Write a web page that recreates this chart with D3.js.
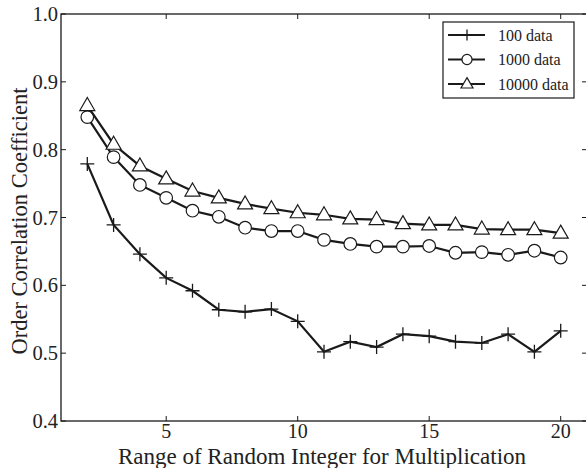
<!DOCTYPE html>
<html>
<head>
<meta charset="utf-8">
<script src="https://cdn.jsdelivr.net/npm/d3@7"></script>
<style>
  body { margin: 0; background: #fff; }
  svg text { font-family: "Liberation Serif", "Times New Roman", Times, serif; fill: #222; }
</style>
</head>
<body>
<svg id="chart"></svg>
<script>
// data
const xs = [2, 3, 4, 5, 6, 7, 8, 9, 10, 11, 12, 13, 14, 15, 16, 17, 18, 19, 20];
const data100 = [0.779, 0.689, 0.646, 0.611, 0.592, 0.564, 0.561, 0.565, 0.547, 0.502, 0.517, 0.509, 0.528, 0.525, 0.517, 0.515, 0.528, 0.502, 0.533];
const data1000 = [0.848, 0.789, 0.748, 0.729, 0.710, 0.701, 0.685, 0.680, 0.680, 0.667, 0.661, 0.657, 0.657, 0.658, 0.648, 0.649, 0.645, 0.651, 0.641];
const data10000 = [0.865, 0.808, 0.776, 0.757, 0.739, 0.729, 0.720, 0.713, 0.707, 0.704, 0.698, 0.697, 0.691, 0.689, 0.689, 0.683, 0.682, 0.682, 0.677];
const seriesNames = ["100 data", "1000 data", "10000 data"];
const xTicks = [5, 10, 15, 20];
const yTicks = [0.4, 0.5, 0.6, 0.7, 0.8, 0.9, 1.0];

const width = 586, height = 468;
const margin = { top: 14, right: -1, bottom: 47, left: 61 };
const serif = '"Liberation Serif", "Times New Roman", Times, serif';

const svg = d3.select('#chart')
    .attr('width', width)
    .attr('height', height)
    .attr('font-family', serif);

const x = d3.scaleLinear().domain([1, 21]).range([margin.left, width - margin.right]);
const y = d3.scaleLinear().domain([0.4, 1.0]).range([height - margin.bottom, margin.top]);

const ink = '#1a1a1a';

// frame
svg.append('rect')
    .attr('x', x(1)).attr('y', y(1.0))
    .attr('width', x(21) - x(1)).attr('height', y(0.4) - y(1.0))
    .attr('fill', 'none').attr('stroke', ink).attr('stroke-width', 1.3);

// ticks, pointing inward on all four sides
const tl = 5;
svg.append('g').selectAll('line')
    .data(xTicks).join('line')
    .attr('x1', d => x(d)).attr('x2', d => x(d))
    .attr('y1', y(0.4)).attr('y2', y(0.4) - tl)
    .attr('stroke', ink);
svg.append('g').selectAll('line')
    .data(xTicks).join('line')
    .attr('x1', d => x(d)).attr('x2', d => x(d))
    .attr('y1', y(1.0)).attr('y2', y(1.0) + tl)
    .attr('stroke', ink);
svg.append('g').selectAll('line')
    .data(yTicks).join('line')
    .attr('x1', x(1)).attr('x2', x(1) + tl)
    .attr('y1', d => y(d)).attr('y2', d => y(d))
    .attr('stroke', ink);
svg.append('g').selectAll('line')
    .data(yTicks).join('line')
    .attr('x1', x(21)).attr('x2', x(21) - tl)
    .attr('y1', d => y(d)).attr('y2', d => y(d))
    .attr('stroke', ink);

// tick labels
svg.append('g').selectAll('text')
    .data(xTicks).join('text')
    .attr('x', d => x(d)).attr('y', y(0.4) + 17)
    .attr('text-anchor', 'middle')
    .attr('font-size', 20)
    .text(d => d);
svg.append('g').selectAll('text')
    .data(yTicks).join('text')
    .attr('x', x(1) - 3).attr('y', d => y(d) + 7)
    .attr('text-anchor', 'end')
    .attr('font-size', 20.5)
    .text(d => d.toFixed(1));

// axis titles
svg.append('text')
    .attr('x', 322).attr('y', 463.5)
    .attr('text-anchor', 'middle')
    .attr('font-size', 23)
    .text('Range of Random Integer for Multiplication');
svg.append('text')
    .attr('transform', `translate(27,221) rotate(-90)`)
    .attr('text-anchor', 'middle')
    .attr('font-size', 22.5)
    .text('Order Correlation Coefficient');

// lines + markers
const line = d3.line().x((d, i) => x(xs[i])).y(d => y(d));
const allSeries = [data100, data1000, data10000];
const symbols = ['plus', 'circle', 'triangle'];

function drawMarker(g, type, cx, cy, s = 1) {
    if (type === 'plus') {
        g.append('path')
            .attr('d', `M${cx - 7 * s},${cy}H${cx + 7 * s}M${cx},${cy - 7 * s}V${cy + 7 * s}`)
            .attr('stroke', ink).attr('stroke-width', 1.3).attr('fill', 'none');
    } else if (type === 'circle') {
        g.append('circle')
            .attr('cx', cx).attr('cy', cy).attr('r', 6.3 * s)
            .attr('fill', '#fff').attr('stroke', ink).attr('stroke-width', 1.2);
    } else {
        g.append('path')
            .attr('d', `M${cx},${cy - 8 * s}L${cx + 7.5 * s},${cy + 5 * s}L${cx - 7.5 * s},${cy + 5 * s}Z`)
            .attr('fill', '#fff').attr('stroke', ink).attr('stroke-width', 1.2);
    }
}

allSeries.forEach((s, k) => {
    svg.append('path')
        .attr('d', line(s))
        .attr('fill', 'none').attr('stroke', ink).attr('stroke-width', 2.2);
    const g = svg.append('g');
    s.forEach((v, i) => drawMarker(g, symbols[k], x(xs[i]), y(v)));
});

// legend
const lg = svg.append('g');
lg.append('rect')
    .attr('x', 443).attr('y', 22).attr('width', 131).attr('height', 76)
    .attr('fill', '#fff').attr('stroke', ink).attr('stroke-width', 1.2);
seriesNames.forEach((name, k) => {
    const ly = 35 + k * 24.5;
    lg.append('line')
        .attr('x1', 448).attr('x2', 485).attr('y1', ly).attr('y2', ly)
        .attr('stroke', ink).attr('stroke-width', 2.2);
    drawMarker(lg, symbols[k], 467, ly, 0.8);
    lg.append('text')
        .attr('x', 498).attr('y', ly + 5.5)
        .attr('font-size', 16)
        .text(name);
});
</script>
</body>
</html>
